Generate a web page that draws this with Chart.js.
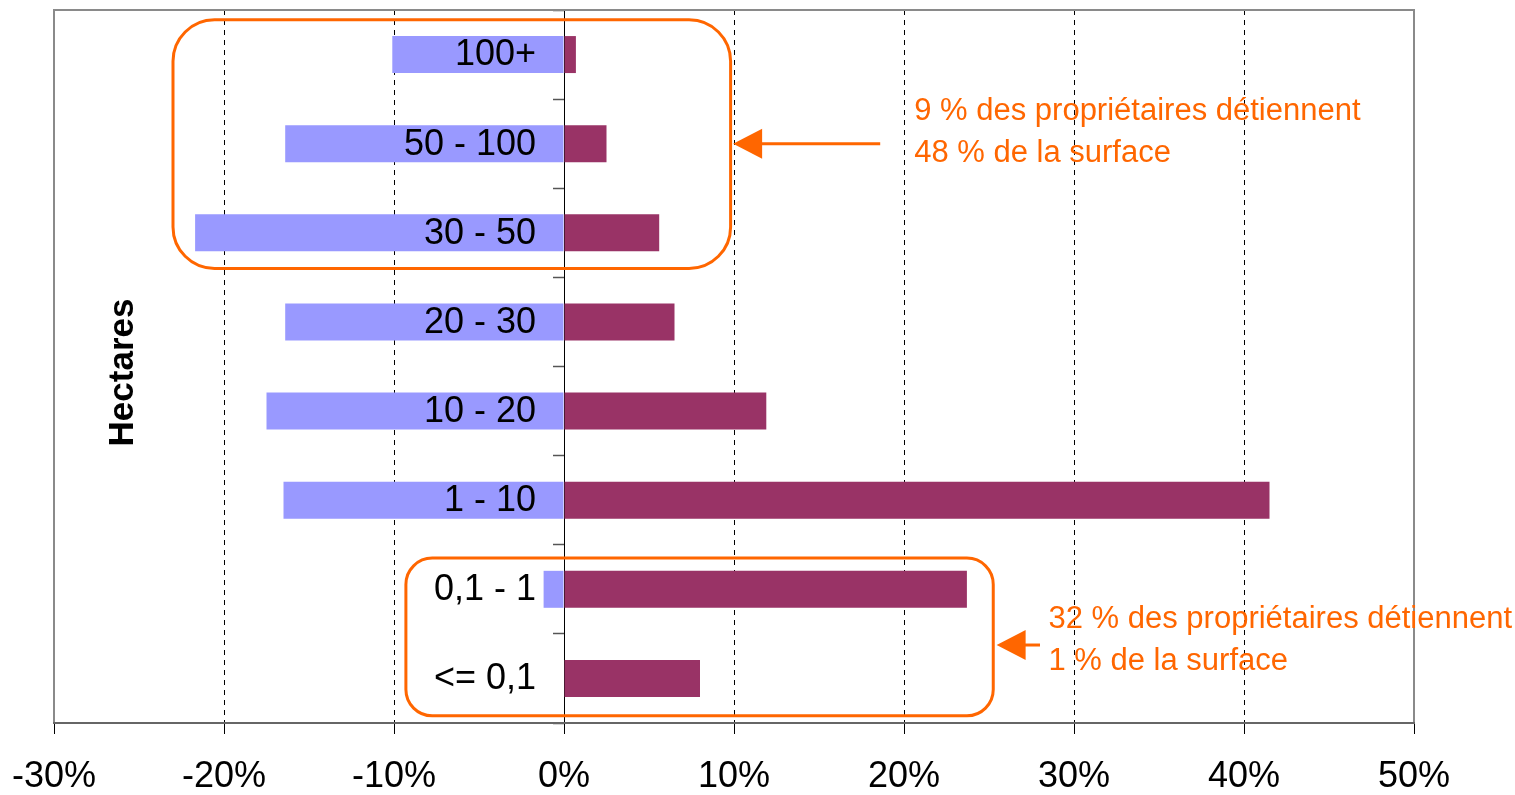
<!DOCTYPE html>
<html><head><meta charset="utf-8">
<script src="https://cdn.jsdelivr.net/npm/chart.js@4"></script>
<style>html,body{margin:0;padding:0;background:#fff;overflow:hidden;}</style>
</head><body>
<canvas id="c" width="1515" height="795"></canvas>
<script>
// ---- data ----
const categories = ['100+', '50 - 100', '30 - 50', '20 - 30', '10 - 20', '1 - 10', '0,1 - 1', '<= 0,1'];
const surfaceShare = [-10.1, -16.4, -21.7, -16.4, -17.5, -16.5, -1.2, 0];
const ownerShare = [0.7, 2.5, 5.6, 6.5, 11.9, 41.5, 23.7, 8.0];
const xTickValues = [-30, -20, -10, 0, 10, 20, 30, 40, 50];
const axisTitle = 'Hectares';
const note1 = ['9 % des propriétaires détiennent', '48 % de la surface'];
const note2 = ['32 % des propriétaires détiennent', '1 % de la surface'];

// ---- annotation placement (in axis units) ----
const boxes = [
  {x0: -23.0, x1: 9.8, y0: -0.39, y1: 2.4},
  {x0: -9.3, x1: 25.25, y0: 5.65, y1: 7.42}
];
const arrows = [
  {from: 18.6, to: 9.95, y: 1.0},
  {from: 28.0, to: 25.45, y: 6.625}
];
const notes = [
  {x: 20.6, y: 0.87, lines: note1},
  {x: 28.5, y: 6.57, lines: note2}
];

const ORANGE = '#FF6600';
const FONT = '"Liberation Sans", Arial, sans-serif';

const decor = {
  id: 'decor',
  beforeDatasetsDraw(chart) {
    const {ctx, chartArea: a} = chart;
    ctx.save();
    ctx.lineWidth = 2;
    ctx.strokeStyle = '#8a8a8a';
    ctx.beginPath();
    ctx.moveTo(a.left, a.bottom); ctx.lineTo(a.left, a.top);
    ctx.lineTo(a.right, a.top); ctx.lineTo(a.right, a.bottom);
    ctx.stroke();
    ctx.strokeStyle = '#666';
    ctx.beginPath();
    ctx.moveTo(a.left - 1, a.bottom); ctx.lineTo(a.right + 1, a.bottom);
    ctx.stroke();
    ctx.restore();
  },
  afterDraw(chart) {
    const {ctx, chartArea: a} = chart;
    const xs = chart.scales.x, ys = chart.scales.y;
    ctx.save();
    // category labels beside the zero line
    ctx.fillStyle = '#000';
    ctx.font = '36px ' + FONT;
    ctx.textAlign = 'right';
    ctx.textBaseline = 'middle';
    const x0 = xs.getPixelForValue(0);
    categories.forEach((c, i) => {
      ctx.fillText(c, x0 - 28, ys.getPixelForValue(i) + 1);
    });
    // axis title
    ctx.save();
    ctx.translate(a.left + 69, (a.top + a.bottom) / 2 + 6);
    ctx.rotate(-Math.PI / 2);
    ctx.font = 'bold 35px ' + FONT;
    ctx.textAlign = 'center';
    ctx.textBaseline = 'middle';
    ctx.fillText(axisTitle, 0, 0);
    ctx.restore();
    // rounded boxes
    ctx.strokeStyle = ORANGE;
    ctx.lineWidth = 3;
    boxes.forEach(b => {
      const l = xs.getPixelForValue(b.x0), r = xs.getPixelForValue(b.x1);
      const t = ys.getPixelForValue(b.y0), btm = ys.getPixelForValue(b.y1);
      const rad = 0.167 * Math.min(r - l, btm - t);
      ctx.beginPath();
      ctx.roundRect(l, t, r - l, btm - t, rad);
      ctx.stroke();
    });
    // arrows
    ctx.fillStyle = ORANGE;
    arrows.forEach(ar => {
      const xf = xs.getPixelForValue(ar.from), xt = xs.getPixelForValue(ar.to);
      const y = ys.getPixelForValue(ar.y);
      ctx.beginPath();
      ctx.moveTo(xf, y); ctx.lineTo(xt + 20, y);
      ctx.stroke();
      ctx.beginPath();
      ctx.moveTo(xt, y); ctx.lineTo(xt + 29, y - 15); ctx.lineTo(xt + 29, y + 15);
      ctx.closePath();
      ctx.fill();
    });
    // notes
    ctx.font = '31px ' + FONT;
    ctx.textAlign = 'left';
    ctx.textBaseline = 'middle';
    notes.forEach(n => {
      const x = xs.getPixelForValue(n.x);
      const yc = ys.getPixelForValue(n.y);
      n.lines.forEach((ln, k) => {
        ctx.fillText(ln, x, yc + (k - (n.lines.length - 1) / 2) * 42);
      });
    });
    ctx.restore();
  }
};

new Chart(document.getElementById('c'), {
  type: 'bar',
  data: {
    labels: categories,
    datasets: [
      {label: 'Surface', data: surfaceShare, backgroundColor: '#9999FF', barPercentage: 0.415, categoryPercentage: 1},
      {label: 'Propriétaires', data: ownerShare, backgroundColor: '#993366', barPercentage: 0.415, categoryPercentage: 1}
    ]
  },
  options: {
    indexAxis: 'y',
    responsive: false,
    animation: false,
    devicePixelRatio: 1,
    layout: {padding: {left: 54, right: 101, top: 10, bottom: 0}},
    plugins: {legend: {display: false}, tooltip: {enabled: false}, title: {display: false}},
    scales: {
      x: {
        type: 'linear', min: -30, max: 50, stacked: true,
        afterBuildTicks: s => { s.ticks = xTickValues.map(v => ({value: v})); },
        afterFit: s => { s.height = 72; s.paddingLeft = 0; s.paddingRight = 0; },
        ticks: {
          callback: v => v + '%', color: '#000', autoSkip: false, maxRotation: 0,
          font: {family: FONT, size: 36, lineHeight: 1}, padding: 25
        },
        grid: {
          color: c => (c.tick && [0, -30, 50].includes(c.tick.value)) ? 'rgba(0,0,0,0)' : '#000',
          lineWidth: 1, drawTicks: true, tickLength: 11, tickColor: '#000', tickWidth: 1
        },
        border: {display: false, dash: [5, 5]}
      },
      y: {
        type: 'category', stacked: true, position: {x: 0}, offset: true, z: 1,
        ticks: {display: false},
        grid: {offset: true, drawOnChartArea: false, drawTicks: true, tickLength: 11, tickColor: '#555', tickWidth: 1.5},
        border: {display: true, color: '#000', width: 1}
      }
    }
  },
  plugins: [decor]
});
</script>
</body></html>
